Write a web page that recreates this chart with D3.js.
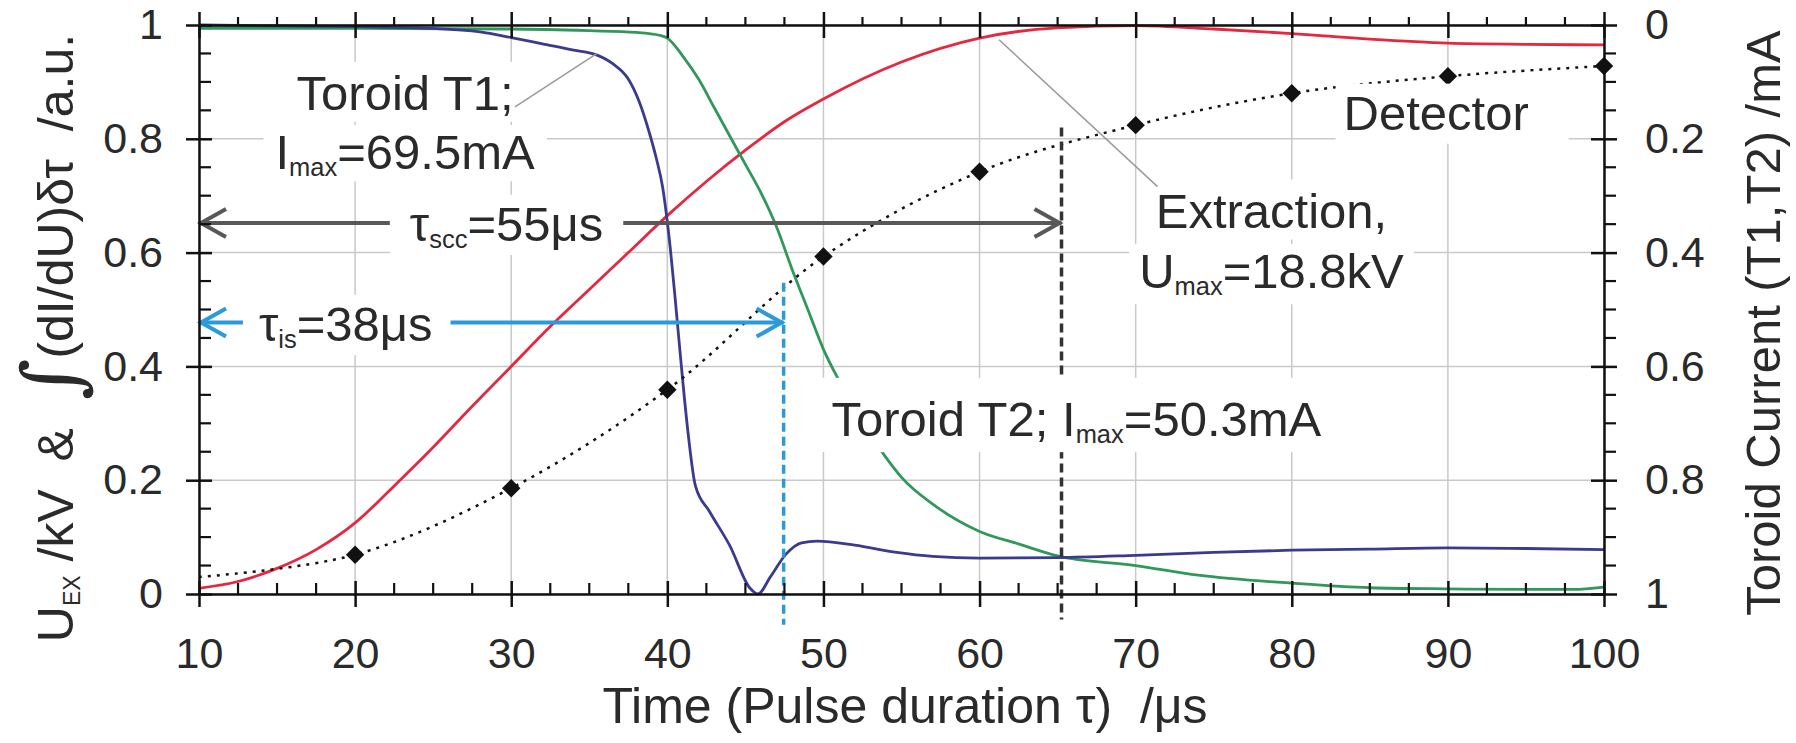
<!DOCTYPE html>
<html>
<head>
<meta charset="utf-8">
<script src="https://cdn.jsdelivr.net/npm/d3@7"></script>
<style>
  body { margin: 0; background: #fff; }
  svg text { font-family: "Liberation Sans", Arial, sans-serif; fill: #2a2a2a; }
</style>
</head>
<body>
<svg id="chart"></svg>
<script>
// ---- data ----
var xTicks = [10, 20, 30, 40, 50, 60, 70, 80, 90, 100];
var yTicks = [0, 0.2, 0.4, 0.6, 0.8, 1];
var toroidTicks = [0, 0.2, 0.4, 0.6, 0.8, 1];

// Extraction voltage (red)
var extractionT = [10, 12.5, 15, 17.5, 20, 22.5, 25, 27.5, 30, 32.5, 35, 37.5, 40, 42.5, 45, 47.5, 50, 55, 60, 65, 70, 75, 80, 85, 90, 95, 100];
var extractionV = [0.01, 0.022, 0.045, 0.078, 0.125, 0.19, 0.258, 0.33, 0.40, 0.47, 0.535, 0.60, 0.665, 0.725, 0.78, 0.83, 0.87, 0.935, 0.977, 0.995, 0.999, 0.993, 0.985, 0.975, 0.968, 0.966, 0.965];

// Toroid T1 (dark blue), right axis inverted
var toroid1T = [10, 20, 25, 28, 30, 32, 34, 35.5, 36.5, 37.5, 38.2, 38.8, 39.3, 39.7, 40.1, 40.5, 40.9, 41.3, 41.8, 42.7, 44, 45.3, 45.8, 46.6, 47.6, 48.6, 49.6, 52, 54.7, 57, 60, 65, 70, 75, 80, 85, 90, 95, 100];
var toroid1V = [1.0, 0.997, 0.994, 0.988, 0.978, 0.967, 0.956, 0.947, 0.932, 0.905, 0.865, 0.815, 0.765, 0.715, 0.63, 0.52, 0.40, 0.29, 0.19, 0.145, 0.085, 0.01, 0.0, 0.03, 0.07, 0.09, 0.093, 0.086, 0.073, 0.066, 0.063, 0.064, 0.068, 0.073, 0.077, 0.079, 0.081, 0.080, 0.078];

// Toroid T2 (green)
var toroid2T = [10, 20, 30, 35, 38, 39.5, 40, 41, 42, 43, 44, 45, 46, 47, 48, 49, 50, 51, 52, 53, 54, 55, 57, 60, 62.5, 65, 70, 74, 80, 85, 90, 95, 98, 100];
var toroid2V = [0.994, 0.994, 0.993, 0.99, 0.987, 0.982, 0.977, 0.945, 0.905, 0.855, 0.805, 0.755, 0.705, 0.645, 0.57, 0.50, 0.43, 0.375, 0.325, 0.28, 0.24, 0.205, 0.158, 0.11, 0.088, 0.067, 0.05, 0.033, 0.019, 0.011, 0.009, 0.008, 0.008, 0.012];

// Detector integral (dotted line with diamonds)
var detectorT = [10, 20, 30, 40, 50, 60, 70, 80, 90, 100];
var detectorV = [0.03, 0.069, 0.186, 0.359, 0.593, 0.742, 0.824, 0.880, 0.910, 0.928];

// characteristic times
var tauIs = {end: 47.45, level: 0.477, top: 0.547};
var tauScc = {end: 65.25, level: 0.652, top: 0.82};

// ---- layout ----
var svgWidth = 1796;
var svgHeight = 743;
var margin = {top: 25, right: 192, bottom: 149, left: 199};
var width = svgWidth - margin.left - margin.right;
var height = svgHeight - margin.top - margin.bottom;

var svg = d3.select("#chart")
  .attr("width", svgWidth)
  .attr("height", svgHeight);

var chartGroup = svg.append("g")
  .attr("transform", `translate(${margin.left}, ${margin.top})`);

var xLinearScale = d3.scaleLinear().domain([10, 100]).range([0, width]);
var yLinearScale = d3.scaleLinear().domain([0, 1]).range([height, 0]);
var yRightScale = d3.scaleLinear().domain([0, 1]).range([0, height]);

function pairs(ts, vs) {
  return ts.map((t, i) => [t, vs[i]]);
}

// grid
var grid = chartGroup.append("g");
grid.selectAll(".gx").data(xTicks).enter().append("line")
  .attr("x1", d => xLinearScale(d)).attr("x2", d => xLinearScale(d))
  .attr("y1", 0).attr("y2", height)
  .attr("stroke", "#c9c9c9").attr("stroke-width", 1.5);
grid.selectAll(".gy").data(yTicks).enter().append("line")
  .attr("x1", 0).attr("x2", width)
  .attr("y1", d => yLinearScale(d)).attr("y2", d => yLinearScale(d))
  .attr("stroke", "#c9c9c9").attr("stroke-width", 1.5);

// curves
var line = d3.line()
  .x(d => xLinearScale(d[0]))
  .y(d => yLinearScale(d[1]))
  .curve(d3.curveMonotoneX);

chartGroup.append("path").datum(pairs(extractionT, extractionV))
  .attr("d", line).attr("fill", "none").attr("stroke", "#e5283f").attr("stroke-width", 2.8);
chartGroup.append("path").datum(pairs(toroid2T, toroid2V))
  .attr("d", line).attr("fill", "none").attr("stroke", "#2f985a").attr("stroke-width", 2.8);
chartGroup.append("path").datum(pairs(toroid1T, toroid1V))
  .attr("d", line).attr("fill", "none").attr("stroke", "#3a3a8e").attr("stroke-width", 2.8);

chartGroup.append("path").datum(pairs(detectorT, detectorV))
  .attr("d", line.curve(d3.curveCatmullRom)).attr("fill", "none")
  .attr("stroke", "#111").attr("stroke-width", 2.5).attr("stroke-dasharray", "3,6");

chartGroup.selectAll(".diamond").data(pairs(detectorT, detectorV).slice(1)).enter()
  .append("path")
  .attr("d", d3.symbol().type(d3.symbolSquare).size(170))
  .attr("transform", d => `translate(${xLinearScale(d[0])},${yLinearScale(d[1])}) rotate(45)`)
  .attr("fill", "#111");

// vertical dashed markers
chartGroup.append("line")
  .attr("x1", xLinearScale(tauIs.end)).attr("x2", xLinearScale(tauIs.end))
  .attr("y1", yLinearScale(tauIs.top)).attr("y2", yLinearScale(-0.054))
  .attr("stroke", "#2b9ad8").attr("stroke-width", 3.5).attr("stroke-dasharray", "9,5");
chartGroup.append("line")
  .attr("x1", xLinearScale(tauScc.end)).attr("x2", xLinearScale(tauScc.end))
  .attr("y1", yLinearScale(tauScc.top)).attr("y2", yLinearScale(-0.045))
  .attr("stroke", "#333").attr("stroke-width", 3.5).attr("stroke-dasharray", "9,5");

// double arrows
function arrow(t0, t1, v, color) {
  var g = chartGroup.append("g").attr("stroke", color).attr("stroke-width", 4).attr("fill", "none");
  var ax = xLinearScale(t0), bx = xLinearScale(t1), ay = yLinearScale(v);
  g.append("line").attr("x1", ax).attr("x2", bx).attr("y1", ay).attr("y2", ay);
  g.append("path").attr("d", `M${ax + 27},${ay - 14}L${ax + 2},${ay}L${ax + 27},${ay + 14}`);
  g.append("path").attr("d", `M${bx - 27},${ay - 14}L${bx - 2},${ay}L${bx - 27},${ay + 14}`);
}
arrow(10, tauScc.end, tauScc.level, "#585858");
arrow(10, tauIs.end, tauIs.level, "#2b9ad8");

// labels with white boxes
var labelGroup = chartGroup.append("g");
function addLabel(t, v, parts, size, pad) {
  var g = labelGroup.append("g");
  var txt = g.append("text")
    .attr("x", xLinearScale(t)).attr("y", yLinearScale(v))
    .attr("text-anchor", "middle")
    .style("font-size", size + "px");
  var shift = 0;
  parts.forEach(function(p) {
    var sub = p[1] === "sub";
    var s = sub ? size * 0.15 : 0;
    txt.append("tspan")
      .attr("dy", s - shift)
      .style("font-size", sub ? (size * 0.52) + "px" : null)
      .text(p[0]);
    shift = s;
  });
  var bb = txt.node().getBBox();
  pad = pad || [4, 10, 2, 10];
  g.insert("rect", "text")
    .attr("x", bb.x - pad[3]).attr("y", bb.y - pad[0])
    .attr("width", bb.width + pad[1] + pad[3]).attr("height", bb.height + pad[0] + pad[2])
    .attr("fill", "#fff");
}

addLabel(23.2, 0.851, [["Toroid T1;"]], 49);
addLabel(23.2, 0.747, [["I"], ["max", "sub"], ["=69.5mA"]], 49, [0, 12, 0, 12]);
addLabel(89.25, 0.816, [["Detector"]], 49, [2, 40, 4, 8]);
addLabel(78.7, 0.644, [["Extraction,"]], 49);
addLabel(78.7, 0.538, [["U"], ["max", "sub"], ["=18.8kV"]], 49, [0, 10, 4, 10]);
addLabel(66.2, 0.278, [["Toroid T2; I"], ["max", "sub"], ["=50.3mA"]], 49, [14, 10, 4, 10]);
addLabel(29.7, 0.621, [["\u03c4"], ["scc", "sub"], ["=55\u03bcs"]], 49, [2, 20, 2, 20]);
addLabel(19.4, 0.445, [["\u03c4"], ["is", "sub"], ["=38\u03bcs"]], 49, [2, 18, 2, 16]);

// leader lines
var leaders = [[30.24, 0.856, 35.5, 0.95], [61.25, 0.974, 71.4, 0.716]];
chartGroup.selectAll(".leader").data(leaders).enter().append("line")
  .attr("x1", d => xLinearScale(d[0])).attr("y1", d => yLinearScale(d[1]))
  .attr("x2", d => xLinearScale(d[2])).attr("y2", d => yLinearScale(d[3]))
  .attr("stroke", "#9a9a9a").attr("stroke-width", 1.5);

// axes
var axisColor = "#111";
function styleAxis(g) {
  g.selectAll("path.domain").attr("stroke", axisColor).attr("stroke-width", 2.5);
  g.selectAll(".tick line").attr("stroke", axisColor).attr("stroke-width", 2.5);
  g.selectAll(".tick text").style("font-size", "43px").attr("fill", "#2a2a2a")
    .style("font-family", "\"Liberation Sans\", Arial, sans-serif");
}

var bottomAxis = d3.axisBottom(xLinearScale).tickValues(xTicks).tickSize(13).tickSizeOuter(0).tickPadding(30);
var gBottom = chartGroup.append("g").attr("transform", `translate(0, ${height})`).call(bottomAxis);
gBottom.selectAll(".tick line").attr("y1", -13);
styleAxis(gBottom);

var topAxis = d3.axisTop(xLinearScale).tickValues(xTicks).tickSize(13).tickSizeOuter(0).tickFormat("");
var gTop = chartGroup.append("g").call(topAxis);
gTop.selectAll(".tick line").attr("y1", 13);
styleAxis(gTop);

var leftAxis = d3.axisLeft(yLinearScale).tickValues(yTicks).tickSize(13).tickSizeOuter(0).tickPadding(23)
  .tickFormat(d3.format(""));
var gLeft = chartGroup.append("g").call(leftAxis);
gLeft.selectAll(".tick line").attr("x1", 13);
styleAxis(gLeft);

var rightAxis = d3.axisRight(yRightScale).tickValues(toroidTicks).tickSize(13).tickSizeOuter(0).tickPadding(28)
  .tickFormat(d3.format(""));
var gRight = chartGroup.append("g").attr("transform", `translate(${width}, 0)`).call(rightAxis);
gRight.selectAll(".tick line").attr("x1", -13);
styleAxis(gRight);

// minor ticks
var minorX = d3.range(12.5, 100, 2.5).filter(d => d % 10 !== 0);
var minorY = d3.range(0.05, 1, 0.05).filter((d, i) => (i + 1) % 4 !== 0);
var minor = chartGroup.append("g").attr("stroke", axisColor).attr("stroke-width", 2.2);
minor.selectAll(".mb").data(minorX).enter().append("line")
  .attr("x1", d => xLinearScale(d)).attr("x2", d => xLinearScale(d))
  .attr("y1", height).attr("y2", height - 11);
minor.selectAll(".mt").data(minorX).enter().append("line")
  .attr("x1", d => xLinearScale(d)).attr("x2", d => xLinearScale(d))
  .attr("y1", 0).attr("y2", -8);
minor.selectAll(".ml").data(minorY).enter().append("line")
  .attr("x1", 0).attr("x2", 12)
  .attr("y1", d => yLinearScale(d)).attr("y2", d => yLinearScale(d));
minor.selectAll(".mr").data(minorY).enter().append("line")
  .attr("x1", width).attr("x2", width + 12)
  .attr("y1", d => yRightScale(d)).attr("y2", d => yRightScale(d));

// axis titles
svg.append("text")
  .attr("x", 905).attr("y", 723)
  .attr("text-anchor", "middle")
  .style("font-size", "50px").style("white-space", "pre")
  .text("Time (Pulse duration \u03c4)  /\u03bcs");

var leftTitle = svg.append("text")
  .attr("transform", "translate(73, 338) rotate(-90)")
  .attr("text-anchor", "middle")
  .style("font-size", "50px").style("white-space", "pre");
leftTitle.append("tspan").text("U");
leftTitle.append("tspan").attr("dy", 7).style("font-size", "23px").text("EX");
leftTitle.append("tspan").attr("dy", -7).text(" /kV  &  ");
leftTitle.append("tspan").attr("dy", 6).style("font-size", "80px")
  .style("font-family", "\"DejaVu Serif\", serif").style("font-style", "italic").text("\u222b");
leftTitle.append("tspan").attr("dy", -6).text("(dI/dU)\u03b4\u03c4  /a.u.");

svg.append("text")
  .attr("transform", "translate(1780, 323) rotate(-90)")
  .attr("text-anchor", "middle")
  .style("font-size", "49px").style("white-space", "pre")
  .text("Toroid Current (T1,T2) /mA");
</script>
</body>
</html>
